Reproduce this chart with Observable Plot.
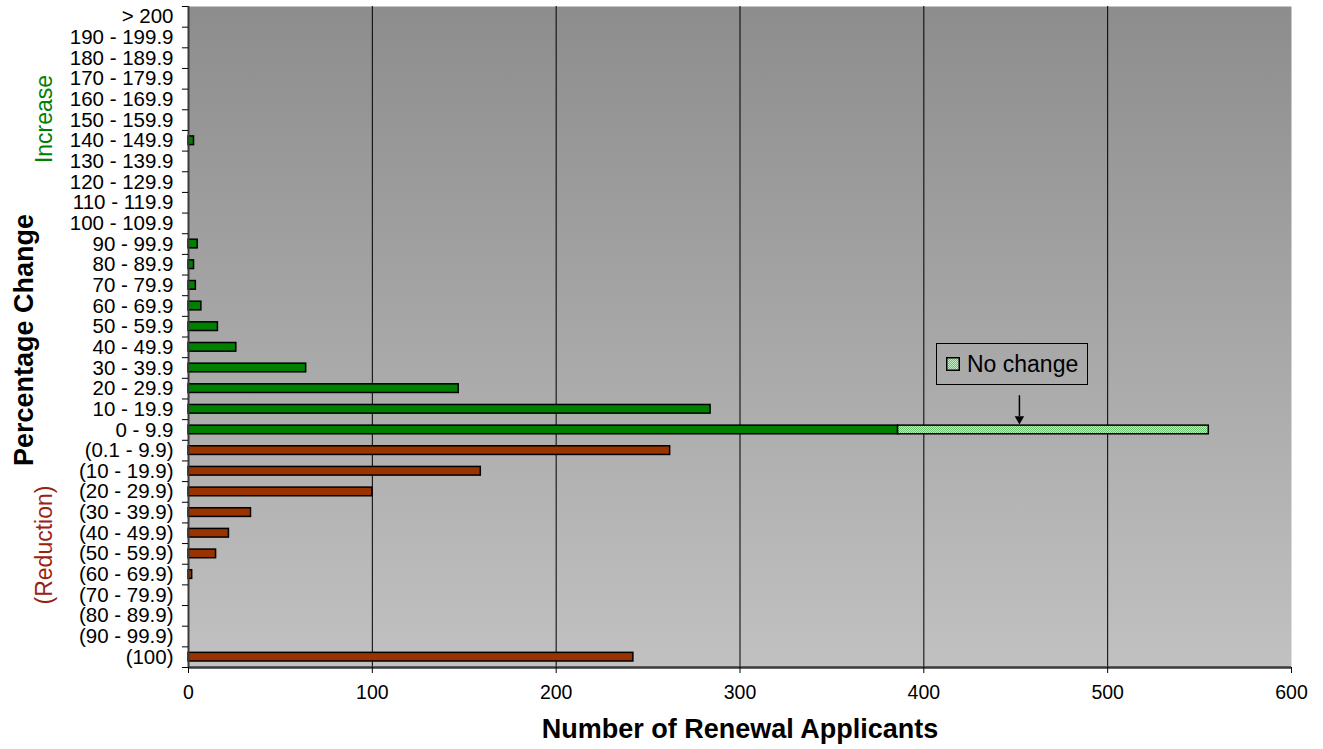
<!DOCTYPE html>
<html><head><meta charset="utf-8">
<script src="https://cdn.jsdelivr.net/npm/d3@7"></script>
<script src="https://cdn.jsdelivr.net/npm/@observablehq/plot@0.6"></script>
<style>
body{margin:0;background:#fff;font-family:Arial,"Liberation Sans",sans-serif}
#wrap{position:relative;width:1323px;height:749px}
#legend{position:absolute;left:936px;top:343px;width:150px;height:40px;border:1px solid #000;box-sizing:content-box;display:flex;align-items:center;font-size:23px;color:#000}
#legend svg{margin-left:9px;margin-right:7px}
</style></head><body><div id="wrap"><div id="legend"><svg width="14" height="14"><defs><pattern id="ncl" width="2" height="2" patternUnits="userSpaceOnUse"><rect width="2" height="2" fill="#c6eec6"/><rect width="1" height="1" fill="#6cbf6c"/><rect x="1" y="1" width="1" height="1" fill="#6cbf6c"/></pattern></defs><rect x="0.75" y="0.75" width="12.5" height="12.5" fill="url(#ncl)" stroke="#000" stroke-width="1.5"/></svg><span>No change</span></div></div>
<script>
const increaseCategories = ["> 200","190 - 199.9","180 - 189.9","170 - 179.9","160 - 169.9","150 - 159.9","140 - 149.9","130 - 139.9","120 - 129.9","110 - 119.9","100 - 109.9","90 - 99.9","80 - 89.9","70 - 79.9","60 - 69.9","50 - 59.9","40 - 49.9","30 - 39.9","20 - 29.9","10 - 19.9","0 - 9.9"];
const increaseValues = [0,0,0,0,0,0,3,0,0,0,0,5,3,4,7,16,26,64,147,284,386];
const reductionCategories = ["(0.1 - 9.9)","(10 - 19.9)","(20 - 29.9)","(30 - 39.9)","(40 - 49.9)","(50 - 59.9)","(60 - 69.9)","(70 - 79.9)","(80 - 89.9)","(90 - 99.9)","(100)"];
const reductionValues = [262,159,100,34,22,15,2,0,0,0,242];
const noChangeCategory = "0 - 9.9";
const noChangeStart = 386;
const noChangeValue = 169;
const arrowX = 452;
const xTicks = [0,100,200,300,400,500,600];

const categories = increaseCategories.concat(reductionCategories);
const incData = increaseCategories.map((c,i)=>({cat:c,value:increaseValues[i]})).filter(d=>d.value>0);
const redData = reductionCategories.map((c,i)=>({cat:c,value:reductionValues[i]})).filter(d=>d.value>0);
const noChangeData = [{cat:noChangeCategory,x1:noChangeStart,x2:noChangeStart+noChangeValue}];

const W=1323,H=749,mL=188,mR=32,mT=6,mB=82;
const half=(H-mT-mB)/categories.length/2;

const chart = Plot.plot({
  width:W,height:H,marginLeft:mL,marginRight:mR,marginTop:mT,marginBottom:mB,
  style:{fontFamily:"Arial, 'Liberation Sans', sans-serif",fontSize:"20px",color:"#000",background:"transparent",overflow:"visible"},
  x:{domain:[0,600],ticks:xTicks,label:null},
  y:{domain:categories,padding:0,round:false,label:null},
  marks:[
    Plot.frame({fill:"url(#bgGrad)",stroke:null}),
    Plot.ruleX(xTicks.filter(t=>t>0&&t<600),{stroke:"#000",strokeWidth:1}),
    Plot.barX(incData,{x:"value",y:"cat",fill:"#008000",stroke:"#000",strokeWidth:1.5,insetTop:6,insetBottom:6}),
    Plot.barX(redData,{x:"value",y:"cat",fill:"#993300",stroke:"#000",strokeWidth:1.5,insetTop:6,insetBottom:6}),
    Plot.barX(noChangeData,{x1:"x1",x2:"x2",y:"cat",fill:"url(#ncPat)",stroke:"#000",strokeWidth:1.5,insetTop:6,insetBottom:6}),
    Plot.link([{x:arrowX,a:"10 - 19.9",b:"0 - 9.9"}],{x1:"x",x2:"x",y1:"a",y2:"b",dy:-14,stroke:"#000",strokeWidth:1.5}),
    Plot.dot([{x:arrowX,b:"0 - 9.9"}],{x:"x",y:"b",dy:-11,symbol:"triangle2",rotate:180,r:4.5,fill:"#000",stroke:null}),
    Plot.ruleX([0],{stroke:"#3a3a3a",strokeWidth:2}),
    Plot.ruleY([categories[categories.length-1]],{dy:half,stroke:"#3a3a3a",strokeWidth:2.5}),
    Plot.ruleY(categories,{y:d=>d,x1:-3.3,x2:0,dy:half,stroke:"#000",strokeWidth:1}),
    Plot.ruleY([categories[0]],{y:d=>d,x1:-3.3,x2:0,dy:-half,stroke:"#000",strokeWidth:1}),
    Plot.axisY({tickSize:0,tickPadding:15,fontSize:20.5}),
    Plot.axisX({ticks:xTicks,tickSize:6,tickPadding:12,fontSize:19.5,stroke:"#000"}),
    Plot.text(["Number of Renewal Applicants"],{frameAnchor:"bottom",dy:70,fontSize:27,fontWeight:"bold",fill:"#000"}),
    Plot.text(["Percentage Change"],{frameAnchor:"left",textAnchor:"middle",dx:-164,dy:3,rotate:-90,fontSize:27,fontWeight:"bold",fill:"#000"}),
    Plot.text(["Increase"],{frameAnchor:"left",textAnchor:"middle",dx:-144,dy:-218,rotate:-90,fontSize:23,fill:"#008000"}),
    Plot.text(["(Reduction)"],{frameAnchor:"left",textAnchor:"middle",dx:-144,dy:208,rotate:-90,fontSize:23,fill:"#992211"})
  ]
});
chart.insertAdjacentHTML("afterbegin",`<defs>
<linearGradient id="bgGrad" x1="0" y1="0" x2="0" y2="1"><stop offset="0" stop-color="#8d8d8d"/><stop offset="1" stop-color="#c1c1c1"/></linearGradient>
<pattern id="ncPat" width="2" height="2" patternUnits="userSpaceOnUse"><rect width="2" height="2" fill="#c6eec6"/><rect width="1" height="1" fill="#6cbf6c"/><rect x="1" y="1" width="1" height="1" fill="#6cbf6c"/></pattern>
</defs>`);
document.getElementById("wrap").appendChild(chart);
chart.style.position="absolute";chart.style.left="0";chart.style.top="0";
document.getElementById("legend").style.zIndex=2;
</script></body></html>
